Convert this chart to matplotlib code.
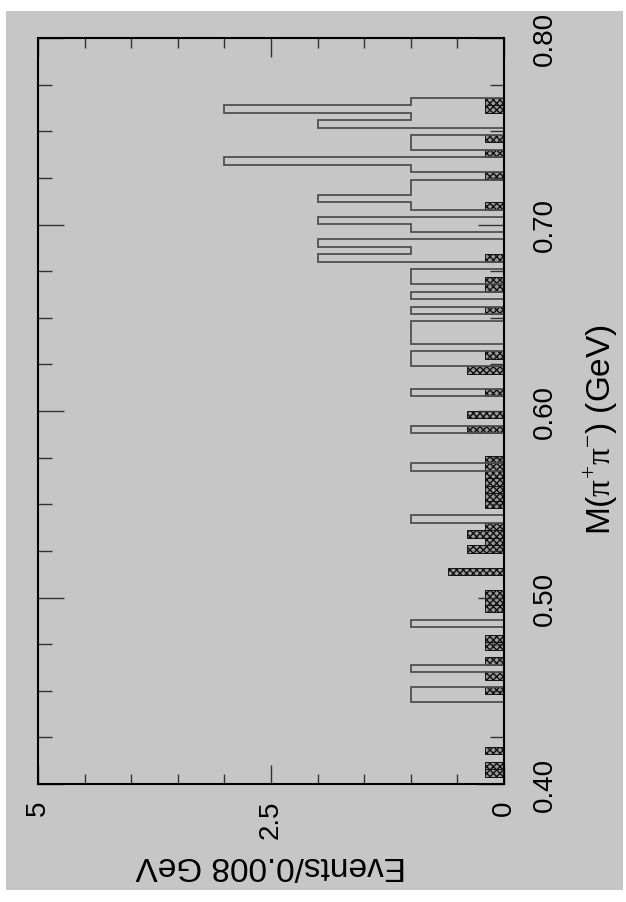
import numpy as np
import matplotlib.pyplot as plt
from matplotlib.patches import Rectangle
from matplotlib.ticker import MultipleLocator

# Open histogram: bin centres (GeV) and entries per bin
open_mass = [0.446, 0.450, 0.462, 0.486, 0.542, 0.570, 0.590, 0.610, 0.626, 0.630,
             0.638, 0.642, 0.646, 0.654, 0.662, 0.670, 0.674, 0.682, 0.686, 0.690,
             0.698, 0.702, 0.710, 0.714, 0.718, 0.722, 0.730, 0.734, 0.742, 0.746,
             0.754, 0.758, 0.762, 0.766]
open_counts = [1, 1, 1, 1, 1, 1, 1, 1, 1, 1,
               1, 1, 1, 1, 1, 1, 1, 2, 1, 2,
               1, 2, 1, 2, 1, 1, 1, 3, 1, 1,
               2, 1, 3, 1]

# Hatched histogram (small weighted entries)
hatch_mass = [0.406, 0.410, 0.418, 0.450, 0.458, 0.466, 0.474, 0.478, 0.494, 0.498,
              0.502, 0.514, 0.526, 0.530, 0.534, 0.538, 0.550, 0.554, 0.558, 0.562,
              0.566, 0.570, 0.574, 0.590, 0.598, 0.610, 0.622, 0.630, 0.654, 0.666,
              0.670, 0.682, 0.710, 0.726, 0.738, 0.746, 0.762, 0.766]
hatch_counts = [0.2, 0.2, 0.2, 0.2, 0.2, 0.2, 0.2, 0.2, 0.2, 0.2,
                0.2, 0.6, 0.4, 0.2, 0.4, 0.2, 0.2, 0.2, 0.2, 0.2,
                0.2, 0.2, 0.2, 0.4, 0.4, 0.2, 0.4, 0.2, 0.2, 0.2,
                0.2, 0.2, 0.2, 0.2, 0.2, 0.2, 0.2, 0.2]

mass_ticks = [0.40, 0.50, 0.60, 0.70, 0.80]
mass_labels = ["0.40", "0.50", "0.60", "0.70", "0.80"]
event_ticks = [0, 2.5, 5]
event_labels = ["0", "2.5", "5"]

bin_width = 0.004
bin_edges = np.arange(0.40, 0.80 + bin_width / 2, bin_width)

bg = "#c6c6c6"
plt.rcParams["font.family"] = ["Liberation Sans", "DejaVu Sans"]
plt.rcParams["mathtext.fontset"] = "custom"
plt.rcParams["mathtext.rm"] = "Liberation Serif"
plt.rcParams["hatch.linewidth"] = 1.0

fig = plt.figure(figsize=(6.26, 9.03), dpi=100)
fig.patch.set_facecolor("white")
fig.patches.append(Rectangle((6 / 626, 12 / 903), 617 / 626, 879 / 903,
                             transform=fig.transFigure, facecolor=bg,
                             edgecolor="none", zorder=-10))

# the whole plot is turned on its side: mass runs up, events run to the left
ax = fig.add_axes([38 / 626, 118 / 903, 466 / 626, 746 / 903])
ax.set_facecolor(bg)

ax.hist(open_mass, bins=bin_edges, weights=open_counts, orientation="horizontal",
        histtype="step", color="#505050", lw=1.3)
ax.barh(hatch_mass, hatch_counts, height=bin_width, left=0, color="#9a9a9a",
        edgecolor="#111111", hatch="xxxxx", lw=0.7)

ax.set_xlim(5, 0)
ax.set_ylim(0.40, 0.80)

ax.set_xticks(event_ticks)
ax.set_xticklabels(event_labels)
ax.xaxis.set_minor_locator(MultipleLocator(0.5))
ax.set_yticks(mass_ticks)
ax.set_yticklabels(mass_labels)
ax.yaxis.set_minor_locator(MultipleLocator(0.025))

ax.tick_params(axis="x", which="both", direction="in", top=True, bottom=True,
               color="#333333", width=1)
ax.tick_params(axis="x", which="major", length=14, pad=11, labelsize=20,
               labelrotation=90)
ax.tick_params(axis="x", which="minor", length=7)
ax.tick_params(axis="y", which="both", direction="in", left=True, right=True,
               labelleft=False, labelright=True, color="#333333", width=1)
ax.tick_params(axis="y", which="major", length=19, pad=20, labelsize=20,
               labelrotation=90)
ax.tick_params(axis="y", which="minor", length=10)
for lab in ax.get_yticklabels():
    lab.set_verticalalignment("center")

for sp in ax.spines.values():
    sp.set_linewidth(1.5)
    sp.set_color("black")

fig.text(271 / 626, 1 - 866 / 903, "Events/0.008 GeV", rotation=180,
         ha="center", va="center", fontsize=24)
fig.text(601 / 626, 1 - 430 / 903, r"M($\mathrm{\pi}^{+}\mathrm{\pi}^{-}$) (GeV)",
         rotation=90, ha="center", va="center", fontsize=24)

fig.savefig("out.png", dpi=100)
